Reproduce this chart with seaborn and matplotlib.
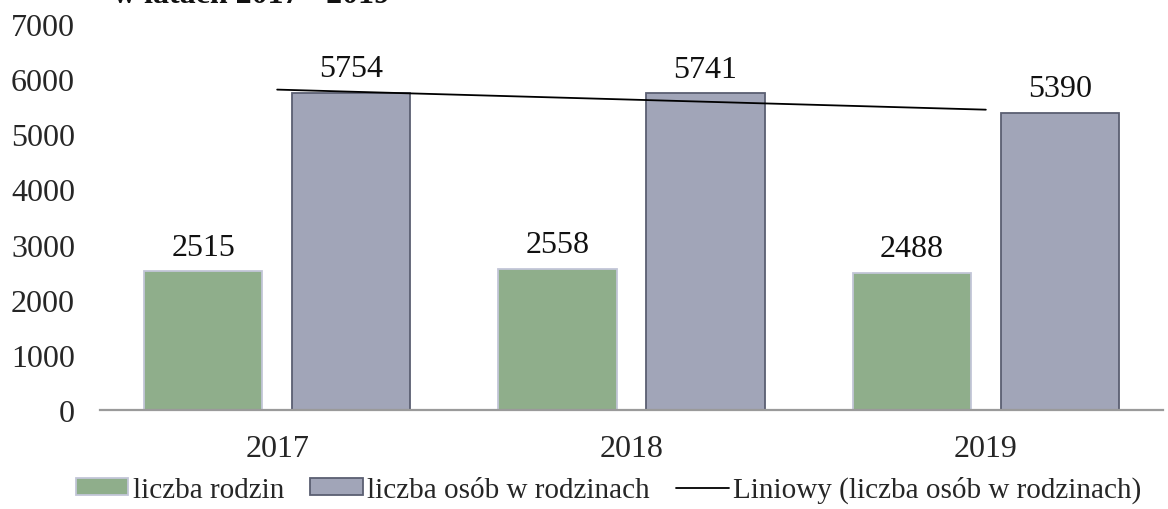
import numpy as np
import pandas as pd
import matplotlib
matplotlib.use("Agg")
import matplotlib.pyplot as plt
import seaborn as sns
from matplotlib.patches import Patch
from matplotlib.lines import Line2D

years = ["2017", "2018", "2019"]
families = [2515, 2558, 2488]
persons = [5754, 5741, 5390]
series_names = ["liczba rodzin", "liczba osób w rodzinach"]
trend_name = "Liniowy (liczba osób w rodzinach)"
title_fragment = "w latach 2017 - 2019"
y_ticks = [0, 1000, 2000, 3000, 4000, 5000, 6000, 7000]

df = pd.DataFrame({
    "rok": years * 2,
    "wartosc": families + persons,
    "seria": [series_names[0]] * 3 + [series_names[1]] * 3,
})

sns.set_theme(style="white")
plt.rcParams["font.family"] = ["Liberation Serif", "DejaVu Serif"]
FS = 23
LFS = 21

fig = plt.figure(figsize=(11.68, 5.10), dpi=100)
ax = fig.add_axes([100 / 1168, 99 / 510, 1063 / 1168, 386 / 510])

fills = ["#8FAE8B", "#A1A5B8"]
edges = ["#C3C6D8", "#5B5F72"]
sns.barplot(data=df, x="rok", y="wartosc", hue="seria", order=years,
            hue_order=series_names, palette=fills, width=0.836, gap=0.2,
            ax=ax, legend=False, saturation=1)
for cont, ec in zip(ax.containers, edges):
    for p in cont:
        p.set_edgecolor(ec)
        p.set_linewidth(1.3)
    ax.bar_label(cont, labels=[str(int(v)) for v in cont.datavalues],
                 padding=7, fontsize=FS, color="#111111")

# linear trend of persons series
sns.regplot(x=np.arange(len(years)), y=np.array(persons), scatter=False,
            ci=None, truncate=True, ax=ax,
            line_kws=dict(color="black", linewidth=1.3))

ax.set_xlim(-0.5, 2.5)
ax.set_ylim(0, 7000)
ax.set_yticks(y_ticks)
ax.set_yticklabels([str(t) for t in y_ticks], fontsize=FS)
ax.set_xticks(range(len(years)))
ax.set_xticklabels(years, fontsize=FS)
ax.set_xlabel("")
ax.set_ylabel("")
ax.tick_params(axis="x", length=0, pad=17)
ax.tick_params(axis="y", length=0, pad=18)
for s in ["top", "right", "left"]:
    ax.spines[s].set_visible(False)
ax.spines["bottom"].set_color("#9A9A9A")
ax.spines["bottom"].set_linewidth(1.6)
ax.grid(False)

handles = [
    Patch(facecolor=fills[0], edgecolor=edges[0], linewidth=1.3),
    Patch(facecolor=fills[1], edgecolor=edges[1], linewidth=1.3),
    Line2D([0], [0], color="black", linewidth=1.3),
]
fig.legend(handles, series_names + [trend_name], loc="center",
           bbox_to_anchor=(0.521, 0.038), ncol=3, frameon=False, fontsize=LFS,
           handlelength=1.8, handletextpad=0.15, columnspacing=0.9,
           handleheight=0.5)

fig.text(390 / 1168, 1.0 - 3 / 510, title_fragment, ha="right",
         va="baseline", fontsize=FS, fontweight="bold", color="#111111")

fig.savefig("out.png", dpi=100)
